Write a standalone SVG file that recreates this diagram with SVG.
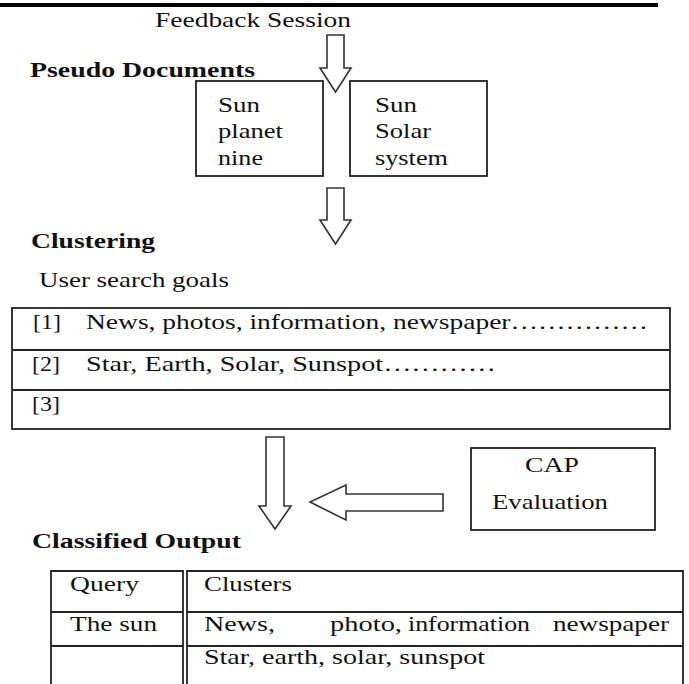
<svg xmlns="http://www.w3.org/2000/svg" width="689" height="684" viewBox="0 0 689 684">
<style>
text{font-size:22px;fill:#111}
.h{font-weight:bold;font-size:21px}
.box{fill:#fff;stroke:#222;stroke-width:1.8}
.ln{stroke:#222;stroke-width:1.8;fill:none}
.arr{fill:#fff;stroke:#333;stroke-width:1.6;stroke-linejoin:miter}
</style>
<g font-family="Liberation Serif, Times New Roman, DejaVu Serif, serif">
<rect x="0" y="3" width="658" height="4" fill="#000"/>
<g id="feedback"><text font-family="Liberation Serif, serif" x="155" y="27" textLength="196" lengthAdjust="spacingAndGlyphs">Feedback Session</text></g>
<g id="pseudo-title"><text class="h" x="30" y="77" textLength="225" lengthAdjust="spacingAndGlyphs">Pseudo Documents</text></g>
<g id="doc1">
<rect class="box" x="196" y="81" width="127" height="95"/>
<text x="218" y="112" textLength="42" lengthAdjust="spacingAndGlyphs">Sun</text>
<text x="218" y="138" textLength="65" lengthAdjust="spacingAndGlyphs">planet</text>
<text x="218" y="165" textLength="45" lengthAdjust="spacingAndGlyphs">nine</text>
</g>
<g id="doc2">
<rect class="box" x="350" y="81" width="137" height="95"/>
<text x="375" y="112" textLength="42" lengthAdjust="spacingAndGlyphs">Sun</text>
<text x="375" y="138" textLength="56" lengthAdjust="spacingAndGlyphs">Solar</text>
<text x="375" y="165" textLength="73" lengthAdjust="spacingAndGlyphs">system</text>
</g>
<g id="clustering-title">
<text class="h" x="31" y="248" textLength="124" lengthAdjust="spacingAndGlyphs">Clustering</text>
<text x="39" y="287" textLength="190" lengthAdjust="spacingAndGlyphs">User search goals</text>
</g>
<g id="goals">
<rect class="box" x="12" y="308" width="658" height="121"/>
<line class="ln" x1="12" y1="350" x2="670" y2="350"/>
<line class="ln" x1="12" y1="390" x2="670" y2="390"/>
<text x="33" y="329" textLength="28" lengthAdjust="spacingAndGlyphs">[1]</text>
<text x="86" y="329" textLength="562" lengthAdjust="spacingAndGlyphs">News, photos, information, newspaper……………</text>
<text x="32" y="371" textLength="28" lengthAdjust="spacingAndGlyphs">[2]</text>
<text x="86" y="371" textLength="410" lengthAdjust="spacingAndGlyphs">Star, Earth, Solar, Sunspot…………</text>
<text x="32" y="411" textLength="28" lengthAdjust="spacingAndGlyphs">[3]</text>
</g>
<g id="cap">
<rect class="box" x="471" y="448" width="184" height="82"/>
<text x="525" y="472" textLength="54" lengthAdjust="spacingAndGlyphs">CAP</text>
<text x="492" y="509" textLength="116" lengthAdjust="spacingAndGlyphs">Evaluation</text>
</g>
<g id="output-title"><text class="h" x="32" y="548" textLength="209" lengthAdjust="spacingAndGlyphs">Classified Output</text></g>
<g id="output">
<path class="ln" d="M51 690V571H183V690M187 690V571H683V690"/>
<path class="ln" d="M51 612H183M187 612H683M51 646H183M187 646H683"/>
<text x="70" y="591" textLength="69" lengthAdjust="spacingAndGlyphs">Query</text>
<text x="70" y="631" textLength="87" lengthAdjust="spacingAndGlyphs">The sun</text>
<text x="204" y="591" textLength="88" lengthAdjust="spacingAndGlyphs">Clusters</text>
<text x="204" y="631" textLength="71" lengthAdjust="spacingAndGlyphs">News,</text>
<text x="330" y="631" textLength="72" lengthAdjust="spacingAndGlyphs">photo,</text>
<text x="408" y="631" textLength="122" lengthAdjust="spacingAndGlyphs">information</text>
<text x="553" y="631" textLength="116" lengthAdjust="spacingAndGlyphs">newspaper</text>
<text x="204" y="664" textLength="281" lengthAdjust="spacingAndGlyphs">Star, earth, solar, sunspot</text>
</g>
<g id="connectors">
<polygon class="arr" points="327,35 344,35 344,68 351,68 335.5,92 320,68 327,68"/>
<polygon class="arr" points="327,188 344,188 344,220 351,220 335.5,244 320,220 327,220"/>
<polygon class="arr" points="266,437 284,437 284,506 291,506 275,529 259,506 266,506"/>
<polygon class="arr" points="443,494 443,511 346,511 346,520 310,502 346,485 346,494"/>
</g>
</g>
</svg>
